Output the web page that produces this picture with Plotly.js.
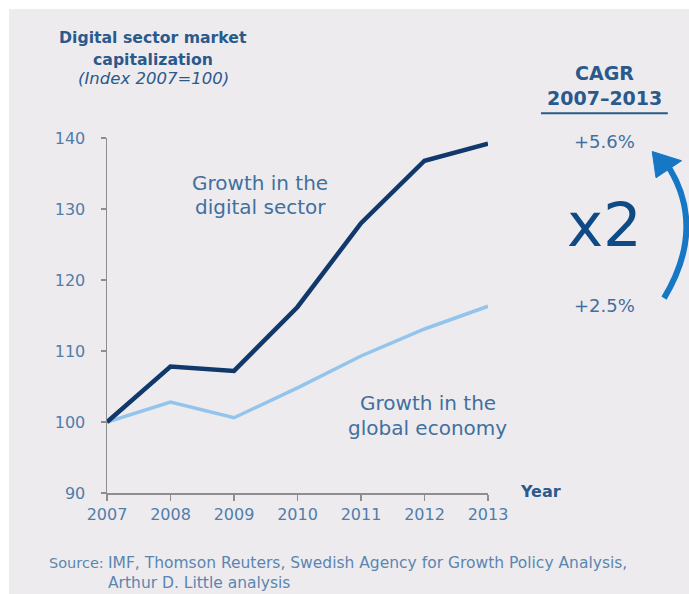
<!DOCTYPE html>
<html>
<head>
<meta charset="utf-8">
<script src="https://cdn.plot.ly/plotly-3.0.1.min.js"></script>
<style>
html,body{margin:0;padding:0;background:#ffffff;}
#chart{position:absolute;left:9px;top:9px;width:680px;height:585px;}
</style>
</head>
<body>
<div id="chart"></div>
<script>
var years = [2007, 2008, 2009, 2010, 2011, 2012, 2013];
var digitalSector = [100, 107.8, 107.2, 116.2, 128.0, 136.8, 139.2];
var globalEconomy = [100, 102.8, 100.6, 104.8, 109.3, 113.1, 116.3];
var yTicks = [90, 100, 110, 120, 130, 140];
var cagrDigital = '+5.6%';
var cagrGlobal = '+2.5%';

var FONT = 'DejaVu Sans, Arial, sans-serif';
var txt = '#41709e';
var bg = '#eeebef';

var traces = [
  {x: years, y: globalEconomy, mode: 'lines', line: {color: '#93c5ec', width: 3.5}, cliponaxis: false, hoverinfo: 'skip'},
  {x: years, y: digitalSector, mode: 'lines', line: {color: '#10386b', width: 4.5}, cliponaxis: false, hoverinfo: 'skip'}
];

function ann(text, x, y, size, opts) {
  var a = {text: text, x: x, y: y, xref: 'paper', yref: 'paper', showarrow: false,
    xanchor: 'center', yanchor: 'middle', font: {family: FONT, size: size, color: txt}};
  if (opts) { for (var k in opts) { if (k === 'font') { for (var f in opts.font) a.font[f] = opts.font[f]; } else a[k] = opts[k]; } }
  return a;
}

var annotations = [
  ann('<b>Digital sector market</b>', 0.121, 1.2845, 15.7, {font: {color: '#2a5a8c'}}),
  ann('<b>capitalization</b>', 0.121, 1.2225, 15.7, {font: {color: '#2a5a8c'}}),
  ann('<i>(Index 2007=100)</i>', 0.121, 1.169, 16.5, {font: {color: '#2a5a8c'}}),
  ann('Growth in the', 0.4016, 0.873, 20),
  ann('digital sector', 0.4016, 0.806, 20),
  ann('Growth in the', 0.8425, 0.2535, 20),
  ann('global economy', 0.8425, 0.183, 20),
  ann('<b>Year</b>', 1.1365, 0.003, 16, {font: {color: '#2a5a8c'}}),
  ann('<b>CAGR</b>', 1.3045, 1.183, 19, {font: {color: '#2a5a8c'}}),
  ann('<b>2007–2013</b>', 1.3045, 1.1127, 19, {font: {color: '#2a5a8c'}}),
  ann(cagrDigital, 1.3045, 0.9915, 18),
  ann('x2', 1.3045, 0.755, 61, {font: {color: '#0f4a85'}}),
  ann(cagrGlobal, 1.3045, 0.527, 18),
  ann('Source:', -0.157, -0.197, 14.5, {xanchor: 'left', font: {color: '#5a86b0'}}),
  ann('IMF, Thomson Reuters, Swedish Agency for Growth Policy Analysis,<br>Arthur D. Little analysis',
      -0.003, -0.2254, 15.5, {xanchor: 'left', align: 'left', font: {color: '#5a86b0'}})
];

var shapes = [
  {type: 'line', xref: 'paper', yref: 'paper', x0: 1.139, x1: 1.472, y0: 1.07, y1: 1.07,
   line: {color: '#2a5a8c', width: 2}},
  {type: 'path', xref: 'paper', yref: 'paper',
   path: 'M 1.462 0.549 Q 1.572 0.745 1.476 0.915',
   line: {color: '#1677c4', width: 6}},
  {type: 'path', xref: 'paper', yref: 'paper',
   path: 'M 1.431 0.962 L 1.508 0.936 L 1.441 0.888 Z',
   fillcolor: '#1677c4', line: {color: '#1677c4', width: 1}}
];

var layout = {
  width: 680, height: 585,
  margin: {l: 98, r: 201, t: 129, b: 101},
  paper_bgcolor: bg, plot_bgcolor: bg,
  showlegend: false,
  xaxis: {range: [2007, 2013], tickvals: years, ticktext: years.map(String),
    showgrid: false, zeroline: false, showline: true, linecolor: '#8e8e8e', linewidth: 1.5,
    ticks: 'outside', ticklen: 6, tickcolor: '#8e8e8e', tickwidth: 1.5,
    tickfont: {family: FONT, size: 16, color: '#4f7eab'}},
  yaxis: {range: [90, 140], tickvals: yTicks, showgrid: false, zeroline: false,
    showline: true, linecolor: '#8e8e8e', linewidth: 1.5,
    ticks: 'outside', ticklen: 5, tickcolor: '#8e8e8e', tickwidth: 1.5,
    ticklabelstandoff: 12,
    tickfont: {family: FONT, size: 16, color: '#4f7eab'}},
  annotations: annotations,
  shapes: shapes
};

Plotly.newPlot('chart', traces, layout, {displayModeBar: false, staticPlot: true});
</script>
</body>
</html>
